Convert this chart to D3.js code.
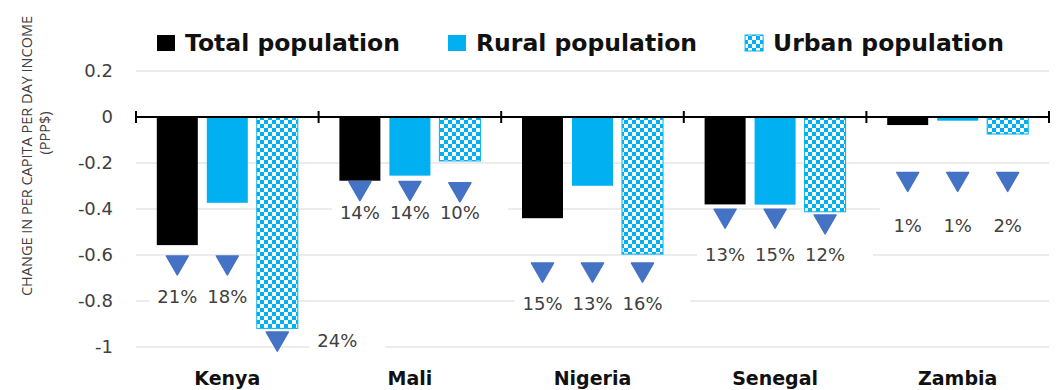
<!DOCTYPE html>
<html>
<head>
<meta charset="utf-8">
<script src="https://cdn.jsdelivr.net/npm/d3@7/dist/d3.min.js"></script>
<style>
  body { margin: 0; background: #fff; }
  svg { display: block; font-family: "DejaVu Sans", sans-serif; }
</style>
</head>
<body>
<div id="chart"></div>
<script>
// values
const countries = ["Kenya", "Mali", "Nigeria", "Senegal", "Zambia"];
const seriesNames = ["Total population", "Rural population", "Urban population"];
const totalChange = [-0.557, -0.277, -0.44, -0.38, -0.035];
const ruralChange = [-0.373, -0.255, -0.299, -0.381, -0.016];
const urbanChange = [-0.919, -0.191, -0.596, -0.412, -0.074];
const totalMarker = [-0.643, -0.32, -0.674, -0.44, -0.28];
const ruralMarker = [-0.643, -0.32, -0.674, -0.44, -0.28];
const urbanMarker = [-0.974, -0.325, -0.674, -0.465, -0.28];
const totalPoverty = ["21%", "14%", "15%", "13%", "1%"];
const ruralPoverty = ["18%", "14%", "13%", "15%", "1%"];
const urbanPoverty = ["24%", "10%", "16%", "12%", "2%"];
const yTicks = [0.2, 0, -0.2, -0.4, -0.6, -0.8, -1];

// layout of the percent labels (px under the marker), not data
const labelDrop = [38, 28, 38, 43, 51];

const width = 1059, height = 390;
const blue = "#00B0F0", tri = "#4472C4", txt = "#404040";

const svg = d3.select("#chart").append("svg")
    .attr("width", width)
    .attr("height", height);

// checker pattern for the urban bars
const defs = svg.append("defs");
const pat = defs.append("pattern")
    .attr("id", "checker")
    .attr("patternUnits", "userSpaceOnUse")
    .attr("width", 8).attr("height", 8);
pat.append("rect").attr("width", 8).attr("height", 8).attr("fill", "#fff");
pat.append("rect").attr("width", 4).attr("height", 4).attr("fill", blue);
pat.append("rect").attr("x", 4).attr("y", 4).attr("width", 4).attr("height", 4).attr("fill", blue);

const x0 = d3.scaleBand()
    .domain(countries)
    .range([136, 1049])
    .paddingInner(0).paddingOuter(0);

const x1 = d3.scaleBand()
    .domain(d3.range(seriesNames.length))
    .range([0, x0.bandwidth()])
    .paddingInner(0.18)
    .paddingOuter(0.416);

const y = d3.scaleLinear()
    .domain([-1, 0.2])
    .range([347, 71]);

// gridlines
svg.append("g")
    .selectAll("line")
    .data(yTicks.filter(d => d !== 0))
    .enter().append("line")
    .attr("x1", 136).attr("x2", 1049)
    .attr("y1", d => y(d)).attr("y2", d => y(d))
    .attr("stroke", "#d9d9d9")
    .attr("stroke-width", 1);

// y tick labels
svg.append("g")
    .selectAll("text")
    .data(yTicks)
    .enter().append("text")
    .attr("x", 113)
    .attr("y", d => y(d))
    .attr("dy", "0.35em")
    .attr("text-anchor", "end")
    .attr("fill", txt)
    .style("font-size", "18px")
    .text(d => d === 0 ? "0" : String(d));

// y title (two lines)
svg.append("text")
    .attr("transform", "translate(32," + 156 + ") rotate(-90)")
    .attr("text-anchor", "middle")
    .attr("fill", txt)
    .style("font-family", "'Open Sans', sans-serif")
    .style("font-size", "14.5px")
    .text("CHANGE IN PER CAPITA PER DAY INCOME");
svg.append("text")
    .attr("transform", "translate(50," + 133 + ") rotate(-90)")
    .attr("text-anchor", "middle")
    .attr("fill", txt)
    .style("font-family", "'Open Sans', sans-serif")
    .style("font-size", "14.5px")
    .text("(PPP$)");

// markers and percent labels data
const markers = [totalMarker, ruralMarker, urbanMarker];
const labels = [totalPoverty, ruralPoverty, urbanPoverty];
const markData = [];
countries.forEach((c, i) => {
    markers.forEach((arr, s) => {
        const right = (c === "Kenya" && s === 2);
        markData.push({ c: c, s: s, i: i, v: arr[i], label: labels[s][i], right: right });
    });
});

const cx = d => x0(d.c) + x1(d.s) + x1.bandwidth() / 2;
const labelX = d => d.right ? cx(d) + 60 : cx(d);
const labelY = d => d.right ? y(d.v) + 6 : y(totalMarker[d.i]) + labelDrop[d.i];

// white label boxes hide the gridlines, as in the original
svg.append("g")
    .selectAll("rect")
    .data(markData)
    .enter().append("rect")
    .attr("x", d => labelX(d) - 28)
    .attr("y", d => labelY(d) - 26)
    .attr("width", 76)
    .attr("height", 34)
    .attr("fill", "#fff");

// bars
const changes = [totalChange, ruralChange, urbanChange];
const fills = ["#000", blue, "url(#checker)"];
const barData = [];
countries.forEach((c, i) => {
    changes.forEach((arr, s) => barData.push({ c: c, s: s, v: arr[i] }));
});

svg.append("g")
    .selectAll("rect")
    .data(barData)
    .enter().append("rect")
    .attr("x", d => x0(d.c) + x1(d.s))
    .attr("width", x1.bandwidth())
    .attr("y", d => y(Math.max(0, d.v)))
    .attr("height", d => Math.abs(y(d.v) - y(0)))
    .attr("fill", d => fills[d.s])
    .attr("stroke", d => d.s === 2 ? blue : "none")
    .attr("stroke-width", 1);

svg.append("g")
    .selectAll("path")
    .data(markData)
    .enter().append("path")
    .attr("transform", d => "translate(" + cx(d) + "," + y(d.v) + ")")
    .attr("d", "M-11,-9L11,-9L0,10Z")
    .attr("fill", tri)
    .attr("stroke", tri)
    .attr("stroke-linejoin", "round")
    .attr("stroke-width", 1.5);

svg.append("g")
    .selectAll("text")
    .data(markData)
    .enter().append("text")
    .attr("x", labelX)
    .attr("y", labelY)
    .attr("text-anchor", "middle")
    .attr("fill", txt)
    .style("font-size", "18px")
    .text(d => d.label);

// zero axis with category separators
const axis = svg.append("g");
axis.append("line")
    .attr("x1", 136).attr("x2", 1049)
    .attr("y1", y(0)).attr("y2", y(0))
    .attr("stroke", "#000").attr("stroke-width", 2);
axis.selectAll("line.tick")
    .data(countries.map(c => x0(c)).concat([x0.range()[1]]))
    .enter().append("line")
    .attr("class", "tick")
    .attr("x1", d => d).attr("x2", d => d)
    .attr("y1", y(0) - 6).attr("y2", y(0) + 6)
    .attr("stroke", "#000").attr("stroke-width", 2);

// category labels
svg.append("g")
    .selectAll("text")
    .data(countries)
    .enter().append("text")
    .attr("x", d => x0(d) + x0.bandwidth() / 2)
    .attr("y", 385)
    .attr("text-anchor", "middle")
    .attr("fill", "#111")
    .style("font-size", "19px")
    .style("font-weight", "bold")
    .text(d => d);

// legend
const legend = svg.append("g");
let lx = 157;
seriesNames.forEach((name, s) => {
    legend.append("rect")
        .attr("x", lx).attr("y", 35)
        .attr("width", 18).attr("height", 16)
        .attr("fill", fills[s])
        .attr("stroke", s === 2 ? blue : "none");
    const t = legend.append("text")
        .attr("x", lx + 28)
        .attr("y", 51)
        .attr("fill", "#111")
        .style("font-size", "23.5px")
        .style("font-weight", "bold")
        .text(name);
    lx += 28 + t.node().getComputedTextLength() + 48;
});
</script>
</body>
</html>
